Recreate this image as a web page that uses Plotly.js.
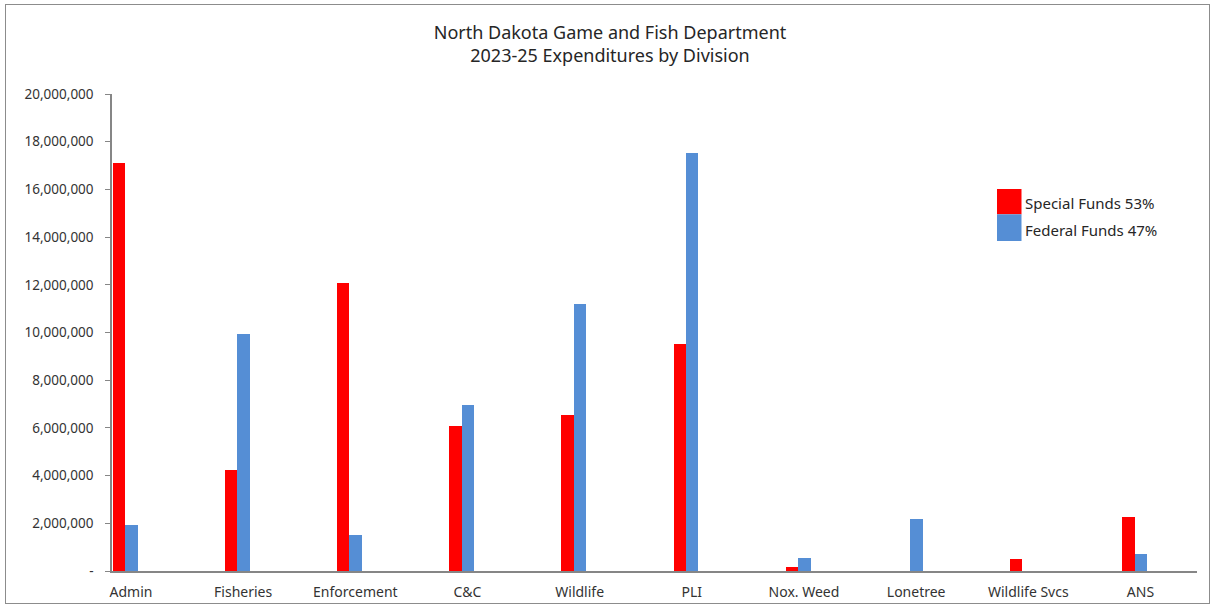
<!DOCTYPE html>
<html>
<head>
<meta charset="utf-8">
<script src="https://cdn.plot.ly/plotly-3.0.1.min.js"></script>
<style>
  html, body { margin: 0; padding: 0; background: #ffffff; }
  #wrap { position: relative; width: 1214px; height: 607px; }
  #chart { width: 1214px; height: 607px; }
  #frame { position: absolute; left: 5px; top: 4px; width: 1203px; height: 598px;
           border: 1px solid #8c8c8c; pointer-events: none; }
</style>
</head>
<body>
<div id="wrap">
  <div id="chart"></div>
  <div id="frame"></div>
</div>
<script>
// ---- data ----
const divisions = ["Admin", "Fisheries", "Enforcement", "C&C", "Wildlife", "PLI",
                   "Nox. Weed", "Lonetree", "Wildlife Svcs", "ANS"];
const specialFunds = [17100000, 4230000, 12060000, 6090000, 6560000, 9530000,
                      170000, 0, 490000, 2250000];
const federalFunds = [1930000, 9930000, 1520000, 6970000, 11190000, 17530000,
                      530000, 2200000, 0, 700000];
const seriesNames = ["Special Funds 53%", "Federal Funds 47%"];
const yTickVals = [0, 2000000, 4000000, 6000000, 8000000, 10000000,
                   12000000, 14000000, 16000000, 18000000, 20000000];
const yTickText = ["-", "2,000,000", "4,000,000", "6,000,000", "8,000,000", "10,000,000",
                   "12,000,000", "14,000,000", "16,000,000", "18,000,000", "20,000,000"];

// ---- styling ----
const RED = "#FF0000";
const BLUE = "#558ED5";
const FONT = "Noto Sans, Open Sans, sans-serif";
const TXT = "#333333";
const AXIS = "#868686";

// plot area in pixels
const L = 112, R = 17, T = 94, B = 36, W = 1214, H = 607;
const pw = W - L - R, ph = H - T - B;
const px2x = p => (p - L) / pw;
const px2y = p => (H - B - p) / ph;

const barW = 0.1106;
const traces = [
  { type: "bar", name: seriesNames[0], x: divisions, y: specialFunds,
    marker: { color: RED }, width: barW, offset: -0.163, showlegend: false,
    hovertemplate: "%{x}<br>%{y:,}<extra>" + seriesNames[0] + "</extra>" },
  { type: "bar", name: seriesNames[1], x: divisions, y: federalFunds,
    marker: { color: BLUE }, width: barW, offset: -0.163 + barW, showlegend: false,
    hovertemplate: "%{x}<br>%{y:,}<extra>" + seriesNames[1] + "</extra>" }
];

const legendShapes = [
  { type: "rect", xref: "paper", yref: "paper",
    x0: px2x(997), x1: px2x(1021.5), y0: px2y(214.3), y1: px2y(189),
    fillcolor: RED, line: { width: 0 } },
  { type: "rect", xref: "paper", yref: "paper",
    x0: px2x(997), x1: px2x(1021.5), y0: px2y(241), y1: px2y(214.3),
    fillcolor: BLUE, line: { width: 0 } }
];
const legendAnn = [
  { xref: "paper", yref: "paper", x: px2x(1023), y: px2y(203), xanchor: "left", yanchor: "middle",
    text: seriesNames[0], showarrow: false, font: { family: FONT, size: 15, color: "#262626" } },
  { xref: "paper", yref: "paper", x: px2x(1023), y: px2y(229.5), xanchor: "left", yanchor: "middle",
    text: seriesNames[1], showarrow: false, font: { family: FONT, size: 15, color: "#262626" } }
];

const layout = {
  width: W, height: H,
  margin: { l: L, r: R, t: T, b: B, pad: 0 },
  paper_bgcolor: "#ffffff", plot_bgcolor: "#ffffff",
  font: { family: FONT, color: TXT },
  title: {
    text: "North Dakota Game and Fish Department<br>2023-25 Expenditures by Division",
    font: { family: FONT, size: 18, color: "#262626" },
    x: 610 / W, xanchor: "center", xref: "container",
    y: 1 - 38.5 / H, yanchor: "middle", yref: "container"
  },
  xaxis: {
    type: "category",
    range: [-0.1694, 9.504],
    showline: true, linecolor: AXIS, linewidth: 1.5,
    ticks: "", showgrid: false, zeroline: false,
    tickfont: { family: FONT, size: 14, color: TXT },
    ticklabelstandoff: 7
  },
  yaxis: {
    range: [0, 20000000],
    tickvals: yTickVals, ticktext: yTickText,
    showline: true, linecolor: AXIS, linewidth: 1.5,
    ticks: "outside", ticklen: 5, tickcolor: AXIS, tickwidth: 1,
    showgrid: false, zeroline: false,
    tickfont: { family: FONT, size: 13.5, color: TXT },
    ticklabelstandoff: 9
  },
  bargap: 0,
  shapes: legendShapes,
  annotations: legendAnn,
  showlegend: false
};

Plotly.newPlot("chart", traces, layout, { displayModeBar: false, staticPlot: false });
</script>
</body>
</html>
